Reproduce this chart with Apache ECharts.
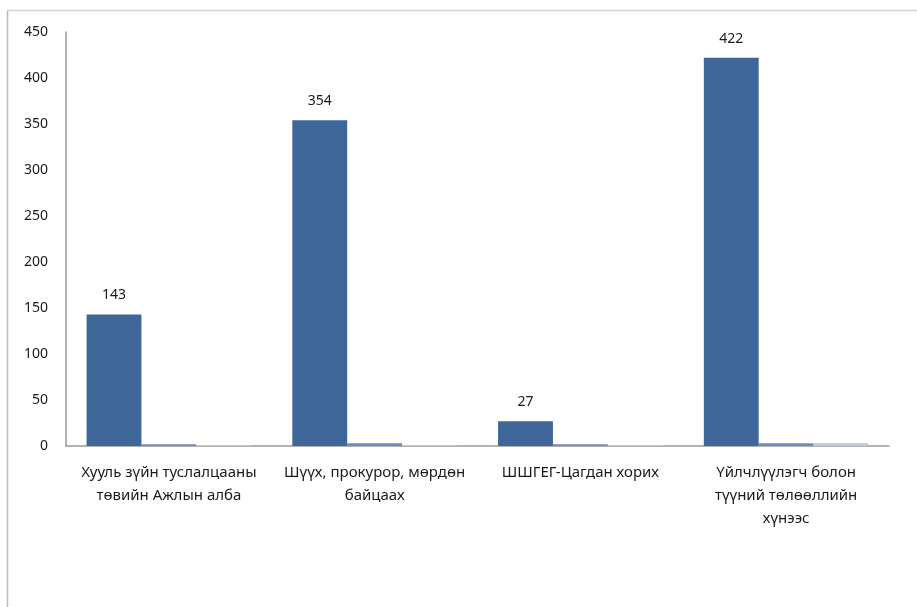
<!DOCTYPE html>
<html>
<head>
<meta charset="utf-8">
<script src="https://cdn.jsdelivr.net/npm/echarts@6/dist/echarts.min.js"></script>
<style>html,body{margin:0;padding:0;background:#fff}#c{width:917px;height:607px}</style>
</head>
<body>
<div id="c"></div>
<script>
var categories = ["Хууль зүйн туслалцааны\nтөвийн Ажлын алба", "Шүүх, прокурор, мөрдөн\nбайцаах", "ШШГЕГ-Цагдан хорих", "Үйлчлүүлэгч болон\nтүүний төлөөллийн\nхүнээс"];
var series1 = [143, 354, 27, 422];
var series2 = [2, 3, 2, 3];
var series3 = [1, 1, 1, 3];
var yTicks = {min: 0, max: 450, interval: 50};

var chart = echarts.init(document.getElementById('c'));
var font = "'Noto Sans', sans-serif";
chart.setOption({
  animation: false,
  textStyle: {fontFamily: font},
  graphic: [
    {type: 'line', shape: {x1: 7.5, y1: 10.5, x2: 917, y2: 10.5}, style: {stroke: '#d4d4d4', lineWidth: 1.5}},
    {type: 'line', shape: {x1: 7.5, y1: 10.5, x2: 7.5, y2: 607}, style: {stroke: '#bdbdbd', lineWidth: 1.5}}
  ],
  grid: {left: 66, top: 32, right: 28, bottom: 161, containLabel: false},
  xAxis: {
    type: 'category',
    data: categories,
    axisLine: {lineStyle: {color: '#999', width: 1.5}},
    axisTick: {show: false},
    axisLabel: {color: '#1a1a1a', fontSize: 15, margin: 15, lineHeight: 23, interval: 0, fontFamily: font}
  },
  yAxis: {
    type: 'value',
    min: yTicks.min, max: yTicks.max, interval: yTicks.interval,
    splitLine: {show: false},
    axisLine: {show: true, lineStyle: {color: '#999', width: 1.5}},
    axisTick: {show: false},
    axisLabel: {color: '#1a1a1a', fontSize: 14, margin: 18, fontFamily: font}
  },
  series: [
    {type: 'bar', data: series1, barGap: '0%', barCategoryGap: '20%',
     itemStyle: {color: '#3f6698'},
     label: {show: true, position: 'top', distance: 12, color: '#1a1a1a', fontSize: 14, fontFamily: font}},
    {type: 'bar', data: series2, barGap: '0%', barCategoryGap: '20%', itemStyle: {color: '#6a8cbf'}},
    {type: 'bar', data: series3, barGap: '0%', barCategoryGap: '20%', itemStyle: {color: '#b9c9e2'}}
  ]
});
</script>
</body>
</html>
